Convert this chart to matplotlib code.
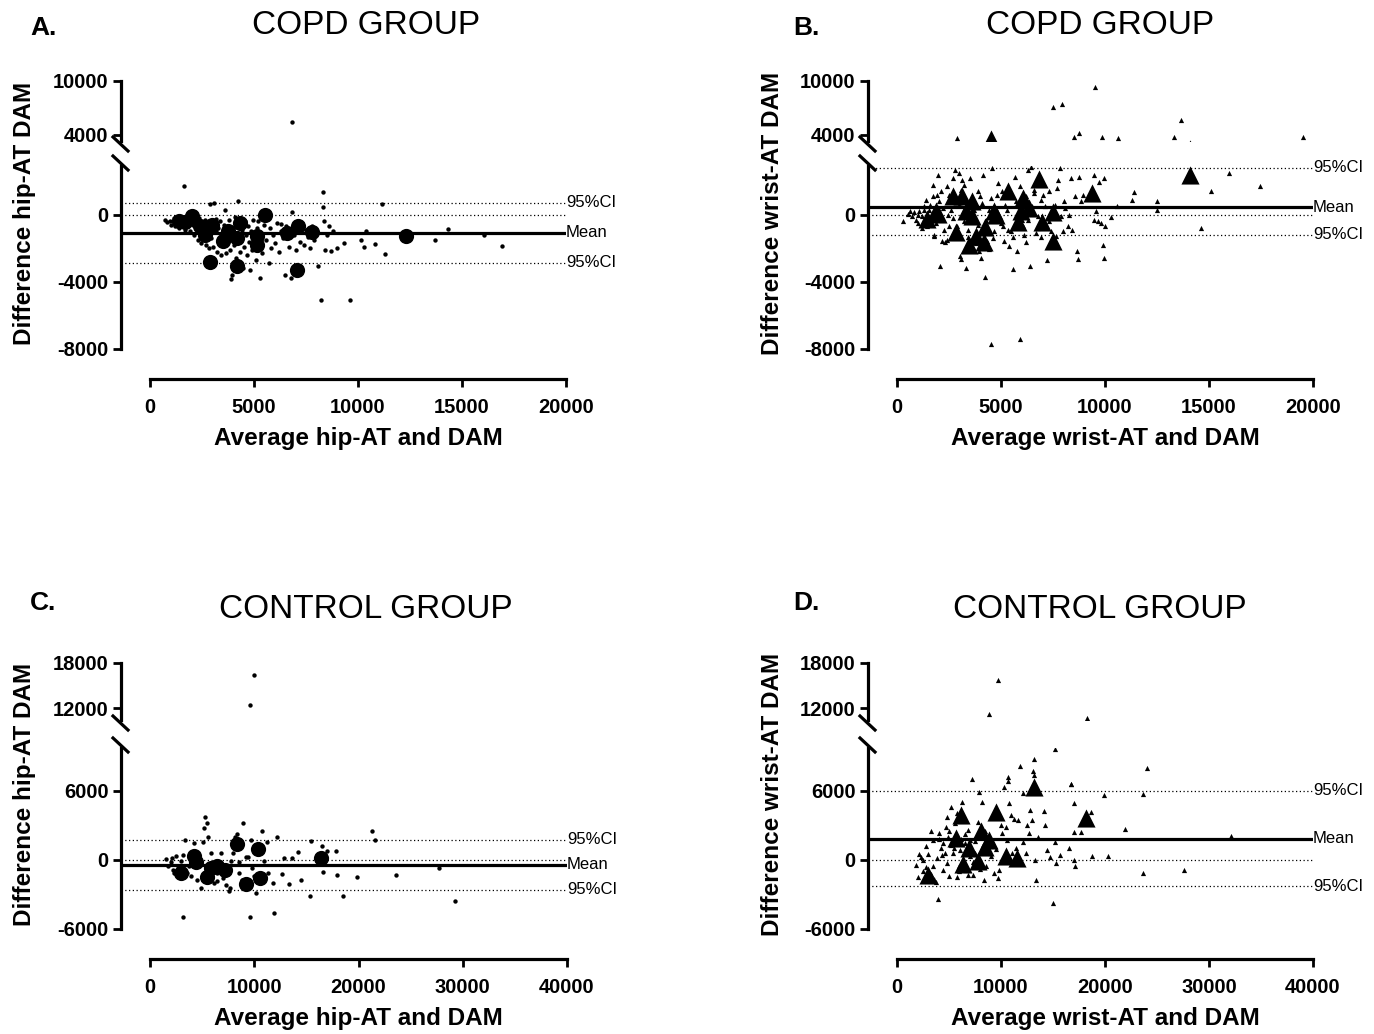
import numpy as np
import matplotlib
matplotlib.use("Agg")
import matplotlib.pyplot as plt
from matplotlib.lines import Line2D

plt.rcParams['font.family'] = ['Liberation Sans', 'DejaVu Sans']
plt.rcParams['font.weight'] = 'bold'

# ---- data (x = average, y = difference) ----
a_small = [(700,-300),(800,-450),(950,-350),(1000,-600),(1100,-400),(1150,-200),(1200,-700),(1300,-500),
           (1350,-350),(1400,-800),(1500,-650),(1600,-250),(1650,1720),(1700,-900),(1750,-150),(1800,-500),
           (1900,-1000),(1950,-300),(2050,-600),(2100,-1200),(2200,-800),(2250,-400),(2300,-1500),(2350,-200),
           (2400,-1000),(2450,-1700),(2500,-600),(2550,-1300),(2600,-900),(2650,-300),(2700,-1800),(2750,-700),
           (2800,-1100),(2850,-2000),(2900,650),(2950,-1400),(3000,-500),(3050,-1900),(3100,700),(3150,-1000),
           (3200,-2200),(3250,-800),(3300,-1500),(3350,-400),(3400,-2400),(3450,-1200),(3500,-1700),(3550,-600),
           (3600,260),(3650,-2300),(3700,-1000),(3750,-1400),(3800,-300),(3850,-2100),(3900,-3850),(3950,-3600),
           (4000,-800),(4050,-1800),(4100,-1100),(4150,-2600),(4200,-500),(4250,790),(4300,-1500),(4350,-2200),
           (4400,-900),(4450,-3150),(4500,-1900),(4550,-400),(4600,-1200),(4650,-2400),(4700,-700),(4750,-1600),
           (4800,-3300),(4850,-1000),(4900,-2100),(4950,-300),(5000,-1400),(5100,-2700),(5150,-800),(5200,-1900),
           (5300,-3750),(5350,-1100),(5400,-2300),(5500,-600),(5600,-1500),(5700,-2900),(5750,-800),(5800,-2000),
           (5900,-1200),(6000,-1700),(6100,-500),(6200,-2200),(6300,-1000),(6400,-1400),(6500,-3600),(6550,-700),
           (6700,-1900),(6800,-3750),(6850,140),(6850,5400),(6900,-1200),(7000,-2100),(7100,-1000),(7200,-1600),
           (7300,-500),(7400,-1800),(7500,-900),(7600,-1300),(7700,-2000),(7800,-700),(7900,-1500),(8000,-1000),
           (8100,-3050),(8200,-5100),(8300,1340),(8300,430),(8350,-400),(8400,-2080),(8500,-1200),(8600,-700),
           (8700,-2170),(8800,-1000),(9000,-1980),(9350,-1680),(9600,-5100),(10150,-1480),(10300,-1920),
           (10400,-990),(10800,-1720),(11150,650),(11300,-2330),(13700,-1480),(14350,-850),(16050,-1190),
           (16900,-1880),(1250,-300),(1450,-450),(1550,-150),(1850,-250),(2000,-100),(2150,-350),(2700,-450),
           (3150,-250),(4100,-150),(5200,-350),(6300,-550)]
a_big = [(1410,-400),(2000,-100),(2400,-700),(2640,-1190),(2970,-600),(3520,-1590),(3760,-1000),(4330,-500),
         (4170,-1390),(5130,-1290),(5130,-1790),(5530,0),(6570,-1090),(7130,-700),(7770,-1030),(12300,-1240),
         (2885,-2820),(4170,-3030),(7080,-3310),(1700,-450)]
a_mean, a_ci_hi, a_ci_lo = -1075, 716, -2866

b_small = [(7514,7146),(7928,7446),(9514,9318),(13640,5685),(8739,4150),(8523,3700),(9856,3700),(10631,3600),
           (13297,3700),(19514,3700),(2883,3600),
           (306,-395),(541,59),(631,198),(721,-99),(811,138),(901,-296),(991,0),(1081,198),(1207,-99),(1315,494),
           (1441,-692),(1532,296),(1676,-99),(1712,1087),(1748,1779),(1802,-1285),(1892,-494),(1982,2372),
           (2072,-3063),(2162,-1581),(2252,-889),(2288,-1640),(2396,1719),(2432,0),(2523,-692),(2613,889),
           (2703,2174),(2793,2668),(2883,-1186),(2973,2470),(3009,-2470),(3063,-2668),(3117,2075),(3243,1779),
           (3333,-3162),(3423,-889),(3514,2174),(3694,-99),(3874,1383),(3964,-2174),(4054,-2570),(4144,2372),
           (4234,-3696),(4324,-1581),(4414,-2036),(4505,-7708),(4559,2767),(4685,-988),(4865,1877),(4955,-296),
           (5045,1383),(5135,-1581),(5315,-889),(5405,-1877),(5586,-3221),(5676,2273),(5766,-2174),(5856,494),
           (6036,-692),(6216,-1640),(6306,2668),(6396,-3063),(6432,2866),(6577,1482),(6667,-1087),(6757,-99),
           (6937,889),(7117,-593),(7207,-2708),(7297,1383),(7568,198),(7658,-1285),(7748,2075),(7838,2767),
           (7874,-99),(8018,790),(8234,-692),(8288,0),(8378,2174),(8559,1087),(8649,-2174),(8685,-2668),
           (8739,2273),(8829,790),(8919,1186),(9459,2372),(9459,-296),(9550,198),(9640,-395),(9730,1976),
           (9820,-494),(9910,-1779),(9946,-2569),(9964,2174),(10000,-652),(10270,-138),(10595,494),(11297,889),
           (11405,1324),(12523,830),(12523,257),(14595,-790),(15100,1423),(15982,2510),(17441,1719),(5910,-7411),
           (1300,300),(1600,600),(2000,800),(2200,400),(2500,1200),(2700,-200),(3000,600),(3200,-400),(3500,900),
           (3700,300),(3900,-600),(4100,700),(4300,-300),(4500,1000),(4700,400),(5000,-500),(5200,600),
           (5500,-1000),(5700,800),(6000,-300),(6200,1100),(6500,500),(6800,-800),(7000,1200),(7300,-400),
           (7600,600),(8000,-1000),(1800,-1200),(2100,1400),(2400,-1500),(2600,300),(2900,-700),(3100,1500),
           (3400,-1300),(3600,500),(3800,-1700),(4000,1100),(4200,-1100),(4400,300),(4600,-1400),(4800,1200),
           (5100,-700),(5300,300),(5600,-1300),(5900,1700),(6100,-1200),(6300,-300),(6600,1300),(6900,-1300),
           (7100,500),(7400,-1000),(7700,1600),(8100,400),(8400,-900),(1000,-500),(1200,-800),(1400,900),
           (1700,-300),(1900,1200)]
b_big = [(4512,3550),(1441,-257),(1892,198),(1982,59),(2703,1126),(2829,-1047),(3117,1126),(3333,198),
         (3459,-1779),(3604,790),(3604,-99),(3784,-1285),(4180,-1640),(4234,-731),(4685,198),(4775,0),
         (5315,1423),(5820,-455),(5946,198),(6036,988),(6360,395),(6847,2115),(6973,-435),(7477,-1581),
         (7514,138),(9369,1285),(14090,2372)]
b_mean, b_ci_hi, b_ci_lo = 430, 2800, -1190

c_small = [(10000,16348),(9547,12435),
           (3208,-4971),(2000,-230),(2075,144),(2453,345),(2717,-575),(3208,431),(3321,1724),(3774,-575),
           (4151,718),(4264,1494),(4528,-1724),(4717,-575),(4906,-2443),(5094,1580),(5170,2730),(5283,3678),
           (5472,3218),(5547,2011),(5774,-862),(5849,575),(6151,-2011),(6415,-1149),(6604,-287),(6792,575),
           (6981,-1580),(7283,-2155),(7547,-2730),(7660,-2443),(7811,-144),(7925,632),(8113,2011),(8302,2213),
           (8491,-230),(8792,-1724),(8943,3218),(9170,287),(9434,230),(9623,-4943),(9698,1724),(9811,-718),
           (10000,-1437),(10189,-2874),(10755,2529),(10943,-144),(11208,1580),(11321,-1149),(11811,-2011),
           (11887,-4598),(12189,1954),(12642,-1207),(12830,144),(13321,-2069),(13585,201),(14151,718),
           (14528,-1782),(15358,-3103),(15472,1667),(16490,1207),(16604,-1092),(17019,805),(17849,805),
           (17925,-1293),(18528,-3161),(19811,-1523),(21321,2500),(21623,1724),(23585,-1293),(27736,-747),
           (29245,-3592),(1510,57),(1698,-575),(2189,-862),(2340,-1149),(3585,-1149),(3962,-1437),(5094,-1724),
           (6415,-1868),(7547,-1149),(8491,-1149),(3019,-144)]
c_big = [(2943,-1149),(4264,345),(4415,-230),(5472,-1494),(5849,-718),(6415,-575),(7170,-862),(8377,1379),
         (9170,-2069),(10377,920),(10566,-1580),(16415,144)]
c_mean, c_ci_hi, c_ci_lo = -431, 1724, -2586

d_small = [(9730,15783),(8830,11200),(18308,10700),
           (15209,9600),(13155,8764),(11821,8103),(24075,7960),(7208,7040),(10632,7184),(10704,6839),
           (13083,7701),(13155,7328),(13227,6034),(16687,6552),(19930,5603),(23607,5690),(7857,5891),
           (12074,5805),(10272,6322),
           (1874,-489),(2162,517),(2342,287),(2522,0),(2054,-1494),(2522,-1006),(2775,-632),(3243,2529),
           (3424,1724),(3604,-1667),(3784,-1926),(3964,-3391),(3856,144),(4072,2299),(4216,1006),(4433,-862),
           (4577,575),(4685,2874),(4793,3736),(4865,2012),(5045,-1437),(5226,4598),(5406,575),(5586,3219),
           (5766,4024),(5946,-575),(6018,862),(6235,5029),(6379,3449),(6523,1437),(6667,-862),(6848,-1293),
           (7028,1724),(7316,-1293),(7460,575),(7676,-575),(8037,862),(8181,5029),(8397,-1724),(8541,-575),
           (8902,575),(9190,1437),(9370,-1149),(9550,920),(9730,-1580),(9838,-862),(9983,3018),(10091,2299),
           (10272,0),(10452,2874),(10560,1724),(10812,4886),(10992,3880),(11064,575),(11280,3506),(11425,1006),
           (11641,3449),(12074,1581),(12362,575),(12506,3018),(12650,2357),(12794,4311),(12974,3449),(13227,0),
           (13335,-1724),(13587,2012),(14128,4254),(14236,3018),(14416,862),(14668,287),(15029,-3736),
           (15173,1581),(15245,-287),(15677,431),(16506,1006),(16758,6610),(17046,4886),(17046,2443),(17046,0),
           (17118,-517),(17659,2443),(18633,4167),(18741,345),(20254,345),(21876,2644),(23607,-1149),
           (27571,-920),(32076,2069),
           (4400,1500),(5000,2500),(5500,1000),(6000,-1000),(6500,2200),(7000,300),(7500,1600),(8000,-800),
           (8500,2500),(9000,300),(3000,500),(3500,-500),(4000,1800),(4800,-300),(5200,1300),(5800,-1500),
           (6200,1800),(6800,2600),(7300,-200),(7800,3300),(8300,1300),(2800,1200),(3300,-1200),(4300,400)]
d_big = [(2955,-1293),(5694,1868),(6126,3879),(6307,-345),(6920,1006),(7749,-144),(8037,2529),(8469,1149),
         (8830,1724),(9550,4109),(10452,345),(11533,144),(13155,6322),(18200,3592)]
d_mean, d_ci_hi, d_ci_lo = 1810, 5977, -2299

W, H = 1374, 1034
fig = plt.figure(figsize=(W / 100, H / 100), dpi=100)


def add_ax(left, top, right, bottom):
    return fig.add_axes([left / W, 1 - bottom / H, (right - left) / W, (bottom - top) / H])


def panel(spine_x, x0, x1, xmax, xticks, up, low, small, big, marker, s_small, s_big,
          mean, ci_hi, ci_lo, ylabel, xlabel, title, title_pos, letter, letter_pos):
    xleft = -(x0 - spine_x) / (x1 - x0) * xmax
    u_top, u_bot, u_lim, u_ticks = up
    l_top, l_bot, l_lim, l_ticks = low
    ax_u = add_ax(spine_x, u_top, x1, u_bot)
    ax_l = add_ax(spine_x, l_top, x1, l_bot)
    sm = np.array(small).T
    bg = np.array(big).T
    for ax, lim, ticks in ((ax_u, u_lim, u_ticks), (ax_l, l_lim, l_ticks)):
        ax.scatter(sm[0], sm[1], s=s_small, marker=marker, color='black', linewidths=0)
        ax.scatter(bg[0], bg[1], s=s_big, marker=marker, color='black', linewidths=0)
        ax.set_xlim(xleft, xmax)
        ax.set_ylim(*lim)
        ax.set_yticks(ticks)
        ax.set_yticklabels([str(t) for t in ticks])
        ax.spines['top'].set_visible(False)
        ax.spines['right'].set_visible(False)
        ax.spines['left'].set_linewidth(2.3)
        ax.spines['bottom'].set_linewidth(2.3)
        ax.tick_params(axis='y', direction='out', length=6, width=2, labelsize=14.5, pad=3)
        ax.set_facecolor('none')
    ax_u.spines['bottom'].set_visible(False)
    ax_u.set_xticks([])

    # reference lines
    ax_l.hlines(mean, xleft, xmax, color='black', lw=2.3)
    for yv in (0, ci_hi, ci_lo):
        ax_l.hlines(yv, xleft, xmax, color='black', lw=0.9, linestyles=(0, (1, 2)))
    for yv, txt in ((ci_hi, '95%CI'), (mean, 'Mean'), (ci_lo, '95%CI')):
        ax_l.text(xmax, yv, txt, ha='left', va='center', fontsize=12, fontweight='normal', clip_on=False)

    ax_l.spines['bottom'].set_position(('outward', 21.6))
    ax_l.spines['bottom'].set_bounds(0, xmax)
    ax_l.set_xticks(xticks)
    ax_l.set_xticklabels([str(t) for t in xticks])
    ax_l.tick_params(axis='x', direction='out', length=6, width=2, labelsize=14.5, pad=8)

    # break marks
    for (ya, yb) in ((u_bot - 4, u_bot + 10), (l_top - 10, l_top + 4)):
        fig.add_artist(Line2D([(spine_x - 8) / W, (spine_x + 7) / W], [1 - ya / H, 1 - yb / H],
                              color='black', lw=2.3))

    fig.text((spine_x - 96) / W, 1 - ((u_top + l_bot) / 2 - 2) / H, ylabel, rotation=90,
             ha='center', va='center', fontsize=17.5)
    fig.text(((x0 + x1) / 2) / W, 1 - (l_bot + 89) / H, xlabel, ha='center', va='center', fontsize=17.5)
    fig.text(title_pos[0] / W, 1 - title_pos[1] / H, title, ha='center', va='center',
             fontsize=24, fontweight='normal')
    fig.text(letter_pos[0] / W, 1 - letter_pos[1] / H, letter, ha='left', va='center', fontsize=19)


up_ab = (81, 141, (3300, 10000), [4000, 10000])
low_ab = (166, 349, (-8000, 2900), [-8000, -4000, 0])
up_cd = (663, 720, (10400, 18000), [12000, 18000])
low_cd = (748, 929, (-6000, 9700), [-6000, 0, 6000])

panel(121, 150, 566, 20000, [0, 5000, 10000, 15000, 20000], up_ab, low_ab, a_small, a_big, 'o', 10, 120,
      a_mean, a_ci_hi, a_ci_lo, 'Difference hip-AT DAM', 'Average hip-AT and DAM',
      'COPD GROUP', (366, 26), 'A.', (30, 28))
panel(868, 897, 1313, 20000, [0, 5000, 10000, 15000, 20000], up_ab, low_ab, b_small, b_big, '^', 14, 170,
      b_mean, b_ci_hi, b_ci_lo, 'Difference wrist-AT DAM', 'Average wrist-AT and DAM',
      'COPD GROUP', (1100, 26), 'B.', (793, 28))
panel(121, 150, 567, 40000, [0, 10000, 20000, 30000, 40000], up_cd, low_cd, c_small, c_big, 'o', 10, 120,
      c_mean, c_ci_hi, c_ci_lo, 'Difference hip-AT DAM', 'Average hip-AT and DAM',
      'CONTROL GROUP', (366, 610), 'C.', (30, 603))
panel(868, 897, 1313, 40000, [0, 10000, 20000, 30000, 40000], up_cd, low_cd, d_small, d_big, '^', 14, 170,
      d_mean, d_ci_hi, d_ci_lo, 'Difference wrist-AT DAM', 'Average wrist-AT and DAM',
      'CONTROL GROUP', (1100, 610), 'D.', (793, 603))

fig.savefig('out.png', dpi=100)
